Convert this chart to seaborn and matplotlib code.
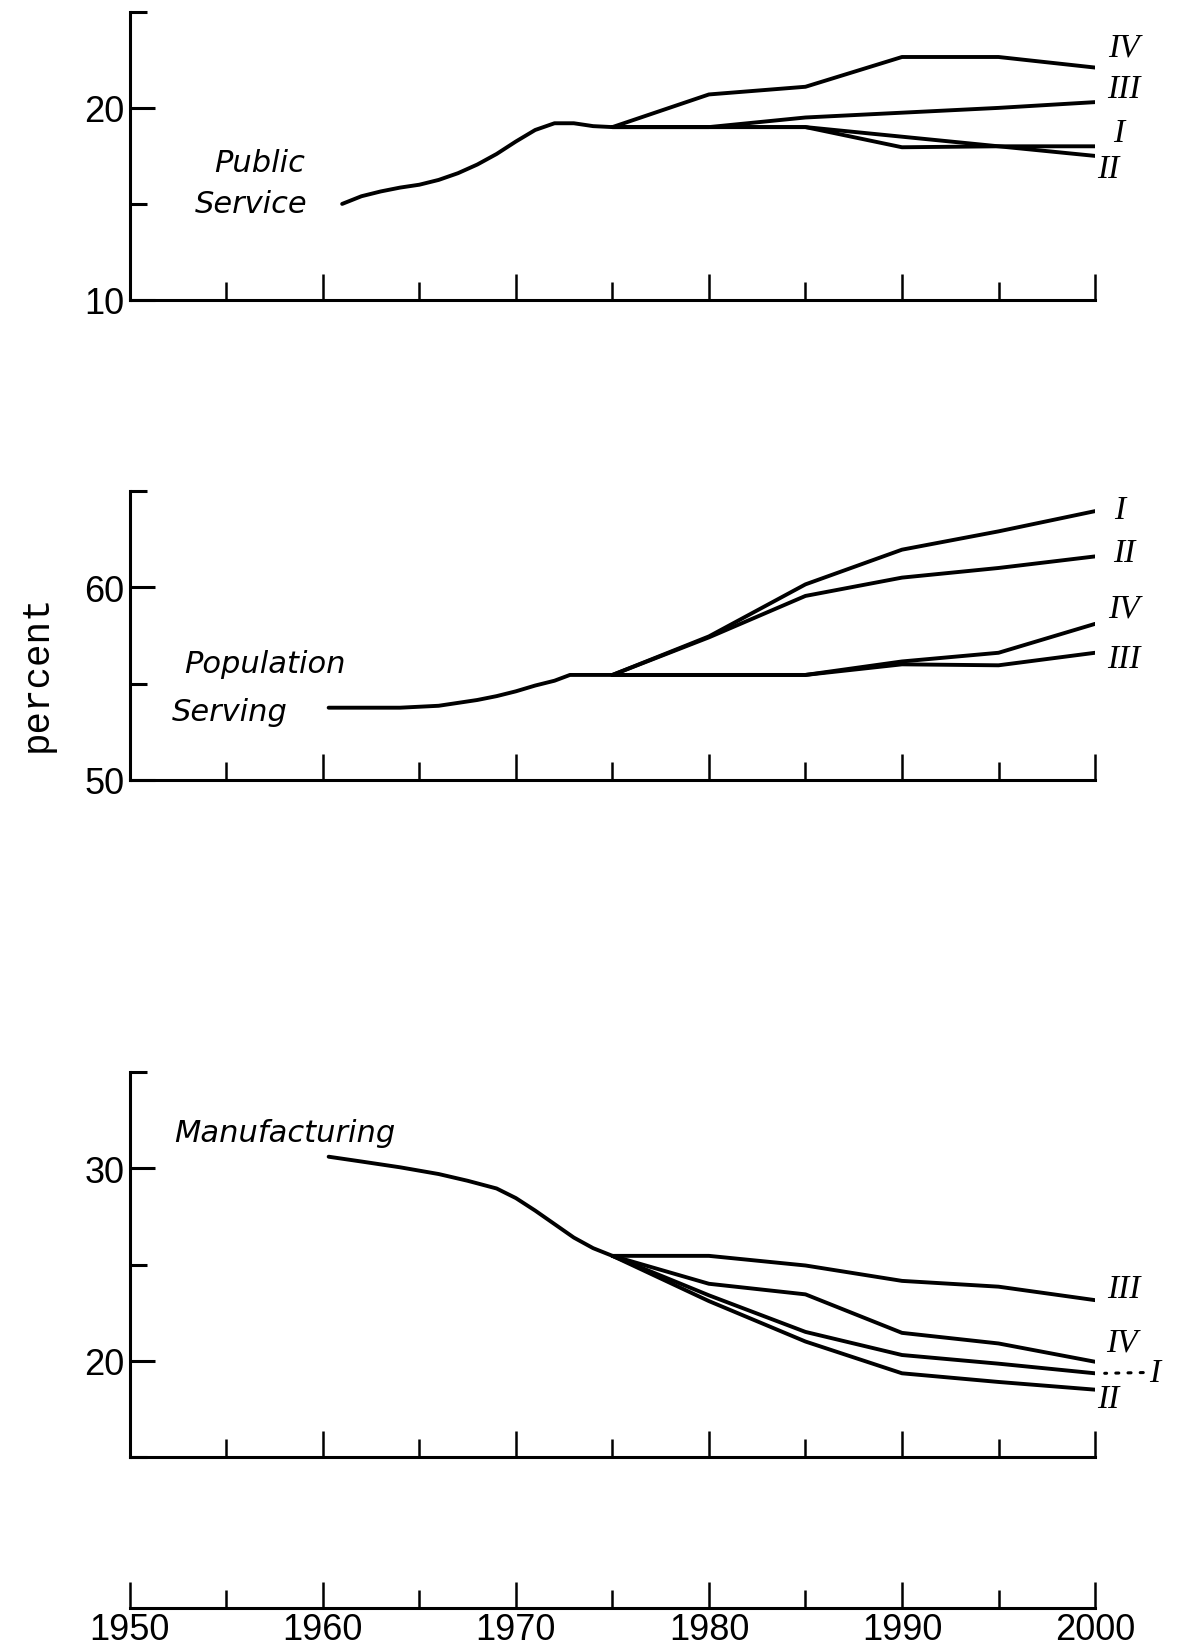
import numpy as np
import pandas as pd
import matplotlib.pyplot as plt
import seaborn as sns

# projection years shared by all scenarios
years_proj = [1975, 1980, 1985, 1990, 1995, 2000]
scenarios = ['I', 'II', 'III', 'IV']

# Public Service (percent)
ps_hist_years = [1961, 1962, 1963, 1964, 1965, 1966, 1967, 1968, 1969, 1970, 1971, 1972, 1973, 1974, 1975]
ps_hist = [15.0, 15.4, 15.65, 15.85, 16.0, 16.25, 16.6, 17.05, 17.6, 18.25, 18.85, 19.2, 19.2, 19.05, 19.0]
ps_I = [19.0, 19.0, 19.0, 18.5, 18.0, 18.0]
ps_II = [19.0, 19.0, 19.0, 17.95, 18.0, 17.5]
ps_III = [19.0, 19.0, 19.5, 19.75, 20.0, 20.3]
ps_IV = [19.0, 20.7, 21.1, 22.65, 22.65, 22.1]

# Population Serving (percent)
pop_hist_years = [1960.3, 1962, 1964, 1965, 1966, 1967, 1968, 1969, 1970, 1971, 1972, 1972.8, 1975]
pop_hist = [53.75, 53.75, 53.75, 53.8, 53.85, 54.0, 54.15, 54.35, 54.6, 54.9, 55.15, 55.45, 55.45]
pop_I = [55.45, 57.45, 60.15, 61.95, 62.9, 63.95]
pop_II = [55.45, 57.4, 59.55, 60.5, 61.0, 61.6]
pop_III = [55.45, 55.45, 55.45, 56.0, 55.95, 56.6]
pop_IV = [55.45, 55.45, 55.45, 56.15, 56.6, 58.1]

# Manufacturing (percent)
man_hist_years = [1960.3, 1962, 1964, 1966, 1967.5, 1969, 1970, 1971, 1972, 1973, 1974, 1975]
man_hist = [30.6, 30.35, 30.05, 29.7, 29.35, 28.95, 28.45, 27.8, 27.1, 26.4, 25.85, 25.45]
man_I = [25.45, 23.4, 21.5, 20.3, 19.85, 19.35]
man_II = [25.45, 23.1, 21.0, 19.35, 18.9, 18.5]
man_III = [25.45, 25.45, 24.95, 24.15, 23.85, 23.15]
man_IV = [25.45, 24.0, 23.45, 21.45, 20.9, 19.95]

panels = [
    dict(hist_x=ps_hist_years, hist_y=ps_hist,
         proj=[ps_I, ps_II, ps_III, ps_IV], ylim=(10, 25),
         major=[10, 20], minor=[15, 25], labels=['10', '20']),
    dict(hist_x=pop_hist_years, hist_y=pop_hist,
         proj=[pop_I, pop_II, pop_III, pop_IV], ylim=(50, 65),
         major=[50, 60], minor=[55, 65], labels=['50', '60']),
    dict(hist_x=man_hist_years, hist_y=man_hist,
         proj=[man_I, man_II, man_III, man_IV], ylim=(15, 35),
         major=[20, 30], minor=[15, 25, 35], labels=['20', '30']),
]

sns.set_style('ticks')
plt.rcParams['text.color'] = 'black'
plt.rcParams['xtick.color'] = 'black'
plt.rcParams['ytick.color'] = 'black'
num_font = ['Liberation Sans', 'DejaVu Sans']
roman_font = ['Liberation Serif', 'DejaVu Serif']
LW = 2.8

fig = plt.figure(figsize=(11.8, 16.49), dpi=100)
rects = [[0.110, 0.8175, 0.818, 0.1747],
         [0.110, 0.5264, 0.818, 0.1753],
         [0.110, 0.1158, 0.818, 0.2335]]

axes = []
for rect, p in zip(rects, panels):
    ax = fig.add_axes(rect)
    axes.append(ax)
    sns.lineplot(x=p['hist_x'], y=p['hist_y'], ax=ax, color='black', lw=LW)
    proj = pd.DataFrame({
        'year': years_proj * 4,
        'value': sum(p['proj'], []),
        'scenario': np.repeat(scenarios, len(years_proj)),
    })
    sns.lineplot(data=proj, x='year', y='value', hue='scenario', ax=ax,
                 palette=['black'] * 4, lw=LW, legend=False)
    ax.set_xlim(1950, 2000)
    ax.set_ylim(*p['ylim'])
    ax.set_xlabel('')
    ax.set_ylabel('')
    for s in ['top', 'right']:
        ax.spines[s].set_visible(False)
    for s in ['left', 'bottom']:
        ax.spines[s].set_linewidth(2.2)
        ax.spines[s].set_color('black')
    ax.set_xticks([1950, 1960, 1970, 1980, 1990, 2000])
    ax.set_xticks([1955, 1965, 1975, 1985, 1995], minor=True)
    ax.set_xticklabels([])
    ax.set_yticks(p['major'])
    ax.set_yticklabels(p['labels'])
    ax.set_yticks(p['minor'], minor=True)
    ax.tick_params(axis='x', which='major', direction='in', length=19, width=1.8,
                   bottom=True)
    ax.tick_params(axis='x', which='minor', direction='in', length=13, width=1.8,
                   bottom=True)
    ax.tick_params(axis='y', which='major', direction='in', length=18, width=2.2,
                   pad=4, labelsize=26, left=True)
    ax.tick_params(axis='y', which='minor', direction='in', length=12, width=2.2,
                   left=True)
    for t in ax.get_yticklabels():
        t.set_family(num_font)
    ax.patch.set_alpha(0)

# category captions
kw = dict(fontsize=22, style='italic', family=['DejaVu Sans'], color='black')
axes[0].text(1959.1, 17.15, 'Public', ha='right', va='center', **kw)
axes[0].text(1959.2, 15.0, 'Service', ha='right', va='center', **kw)
axes[1].text(1952.8, 56.05, 'Population', ha='left', va='center', **kw)
axes[1].text(1952.2, 53.55, 'Serving', ha='left', va='center', **kw)
axes[2].text(1952.3, 31.85, 'Manufacturing', ha='left', va='center', **kw)

# scenario numerals
rkw = dict(fontsize=24, style='italic', family=roman_font, ha='center', va='center', color='black')
axes[0].text(2001.5, 23.15, 'IV', **rkw)
axes[0].text(2001.5, 21.0, 'III', **rkw)
axes[0].text(2001.2, 18.7, 'I', **rkw)
axes[0].text(2000.7, 16.85, 'II', **rkw)
axes[1].text(2001.3, 64.0, 'I', **rkw)
axes[1].text(2001.5, 61.8, 'II', **rkw)
axes[1].text(2001.5, 58.9, 'IV', **rkw)
axes[1].text(2001.5, 56.3, 'III', **rkw)
axes[2].text(2001.5, 23.75, 'III', **rkw)
axes[2].text(2001.4, 20.95, 'IV', **rkw)
# dotted leader from the end of line I to its numeral
axes[2].annotate('I', xy=(2000.5, 19.35), xytext=(2003.1, 19.4), annotation_clip=False,
                 arrowprops=dict(arrowstyle='-', linestyle=(0, (1, 3)), lw=2.2,
                                 color='black', shrinkA=2, shrinkB=0),
                 **rkw)
axes[2].text(2000.7, 18.05, 'II', **rkw)

# shared year scale at the bottom
axb = fig.add_axes([0.110, 0.0243, 0.818, 0.03])
axb.set_xlim(1950, 2000)
axb.set_ylim(0, 1)
for s in ['top', 'right', 'left']:
    axb.spines[s].set_visible(False)
axb.spines['bottom'].set_linewidth(2.2)
axb.spines['bottom'].set_color('black')
axb.set_yticks([])
axb.set_xticks([1950, 1960, 1970, 1980, 1990, 2000])
axb.set_xticks([1955, 1965, 1975, 1985, 1995], minor=True)
axb.tick_params(axis='x', which='major', direction='in', length=19, width=1.8,
                pad=3, labelsize=26, bottom=True)
axb.tick_params(axis='x', which='minor', direction='in', length=13, width=1.8,
                bottom=True)
for t in axb.get_xticklabels():
    t.set_family(num_font)
axb.patch.set_alpha(0)

fig.text(0.031, 0.592, 'percent', rotation=90, ha='center', va='center',
         fontsize=27, family=['Liberation Mono', 'DejaVu Sans Mono'])

fig.savefig('out.png', dpi=100, facecolor='white')
